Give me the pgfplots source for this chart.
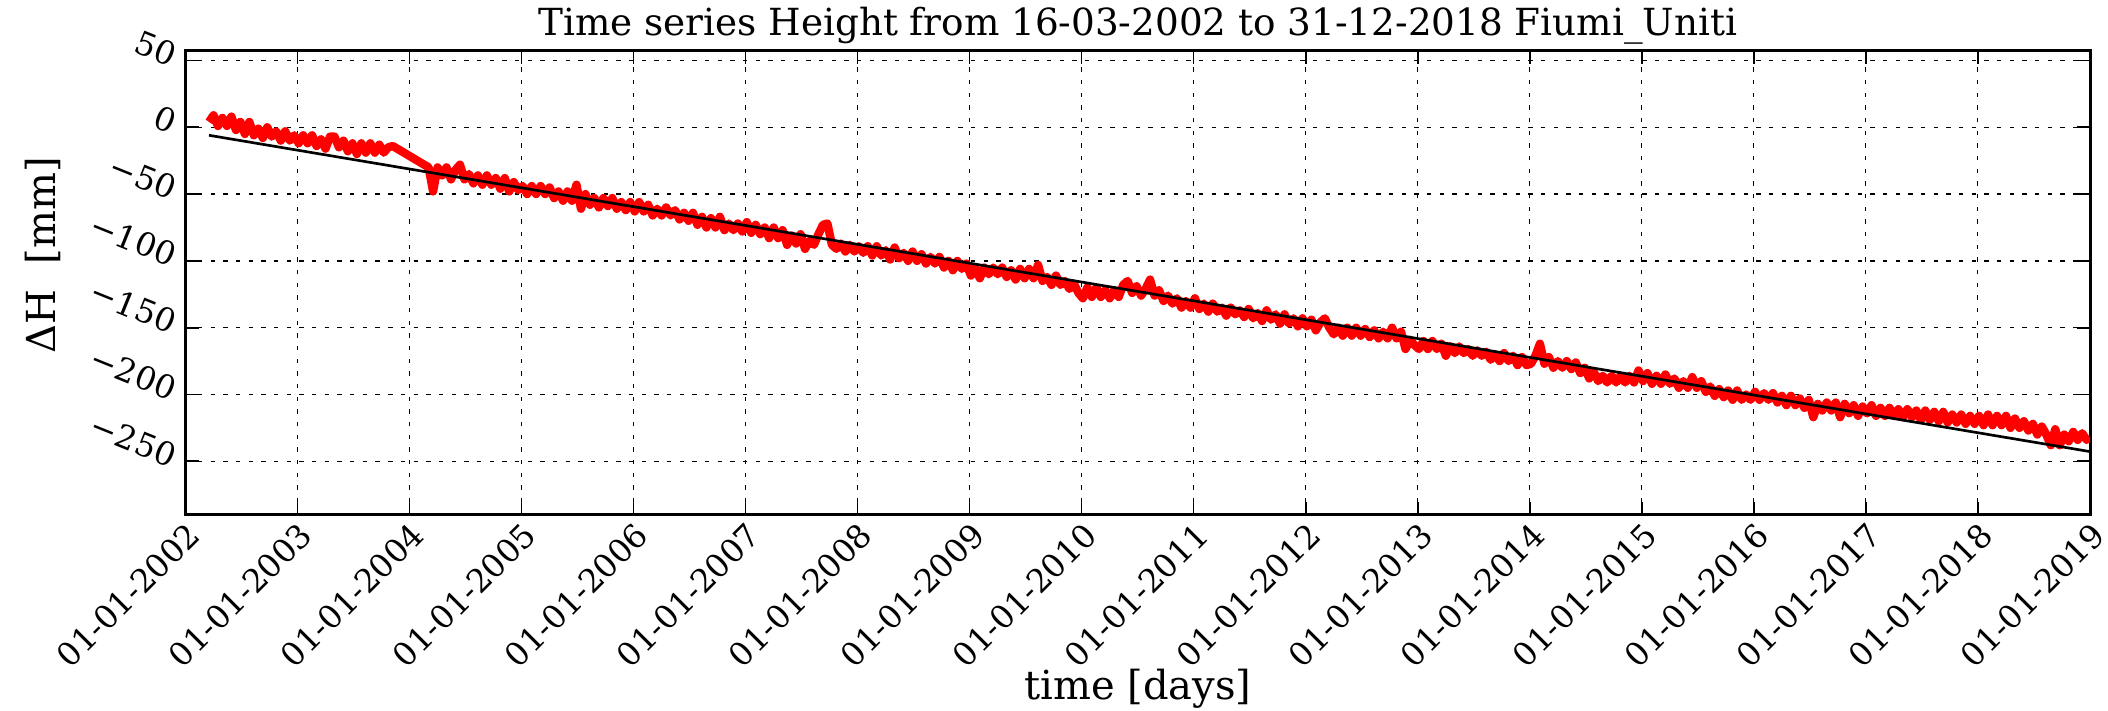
\documentclass[border=0pt]{standalone}
\usepackage{fontspec}
\setmainfont{DejaVu Serif}
\usepackage{pgfplots}
\pgfplotsset{compat=1.18}
\begin{document}
\begin{tikzpicture}
\useasboundingbox (-55.65pt,-58.8pt) rectangle (576.75pt,154.5pt);
\begin{axis}[
  at={(0pt,0pt)}, anchor=south west,
  scale only axis, width=571.35pt, height=139.2pt,
  xmin=2002, xmax=2019, ymin=-290.2, ymax=57.1,
  xtick={2002,...,2019},
  xticklabels={01-01-2002,01-01-2003,01-01-2004,01-01-2005,01-01-2006,01-01-2007,01-01-2008,01-01-2009,01-01-2010,01-01-2011,01-01-2012,01-01-2013,01-01-2014,01-01-2015,01-01-2016,01-01-2017,01-01-2018,01-01-2019},
  ytick={-250,-200,-150,-100,-50,0,50},
  yticklabels={−250,−200,−150,−100,−50,0,50},
  tick align=inside, tick pos=both, major tick length=4pt,
  every tick/.style={black, line width=0.5pt},
  grid=major, grid style={black, line width=0.4pt, dash pattern=on 1.3pt off 2.5pt},
  axis line style={line width=0.9pt},
  ticklabel style={font=\fontsize{9.7}{11}\selectfont},
  xticklabel style={rotate=45, anchor=north east, inner sep=1pt},
  yticklabel style={rotate=-22, anchor=east},
  title={Time series Height from 16-03-2002 to 31-12-2018 Fiumi\_Uniti},
  every axis title/.style={font=\fontsize{11.2}{13}\selectfont, at={(axis description cs:0.5,1)}, anchor=base, yshift=4.6pt},
  xlabel={time [days]},
  every axis x label/.style={font=\fontsize{12}{14}\selectfont, at={(axis description cs:0.5,0)}, anchor=base, yshift=-55.5pt},
  ylabel={ΔH\ \ [mm]},
  every axis y label/.style={font=\fontsize{12}{14}\selectfont, at={(axis description cs:-0.0748,0.56)}, anchor=center, rotate=90},
]
\addplot[red, line width=2.5pt, line join=round] coordinates {
(2002.21,4) (2002.25,9) (2002.29,1) (2002.33,7) (2002.37,1) (2002.41,8) (2002.45,-2) (2002.49,4) (2002.53,-5) (2002.57,4) (2002.61,-6) (2002.65,-1) (2002.69,-8) (2002.73,0) (2002.77,-7) (2002.81,-3) (2002.85,-10) (2002.89,-3) (2002.93,-10) (2002.97,-6)
(2003.01,-12) (2003.05,-6) (2003.09,-12) (2003.13,-6) (2003.17,-14) (2003.21,-9) (2003.25,-16) (2003.29,-7) (2003.33,-7) (2003.37,-15) (2003.41,-10) (2003.45,-18) (2003.49,-12) (2003.53,-20) (2003.57,-12) (2003.61,-19) (2003.65,-12) (2003.69,-19) (2003.73,-13) (2003.77,-19) (2003.81,-15) (2003.85,-14)
(2004.17,-30) (2004.21,-48) (2004.25,-30) (2004.29,-36) (2004.33,-30) (2004.37,-39) (2004.41,-32) (2004.45,-28) (2004.49,-39) (2004.53,-35) (2004.57,-42) (2004.61,-36) (2004.65,-43) (2004.69,-36) (2004.73,-43) (2004.77,-38) (2004.81,-46) (2004.85,-38) (2004.89,-48) (2004.93,-41) (2004.97,-47)
(2005.01,-44) (2005.05,-50) (2005.09,-44) (2005.13,-50) (2005.17,-44) (2005.21,-50) (2005.25,-45) (2005.29,-53) (2005.33,-48) (2005.37,-55) (2005.41,-48) (2005.45,-55) (2005.49,-43) (2005.53,-61) (2005.57,-50) (2005.61,-58) (2005.65,-53) (2005.69,-60) (2005.73,-53) (2005.77,-59) (2005.81,-53) (2005.85,-61) (2005.89,-56) (2005.93,-62) (2005.97,-56)
(2006.01,-63) (2006.05,-56) (2006.09,-63) (2006.13,-58) (2006.17,-66) (2006.21,-61) (2006.25,-66) (2006.29,-60) (2006.33,-66) (2006.37,-62) (2006.41,-69) (2006.45,-64) (2006.49,-70) (2006.53,-64) (2006.57,-73) (2006.61,-67) (2006.65,-75) (2006.69,-68) (2006.73,-75) (2006.77,-67) (2006.81,-77) (2006.85,-72) (2006.89,-77) (2006.93,-72) (2006.97,-78)
(2007.01,-71) (2007.05,-79) (2007.09,-73) (2007.13,-80) (2007.17,-75) (2007.21,-83) (2007.25,-75) (2007.29,-83) (2007.33,-77) (2007.37,-88) (2007.41,-81) (2007.45,-87) (2007.49,-80) (2007.53,-91) (2007.57,-85) (2007.61,-88) (2007.65,-80) (2007.69,-73) (2007.73,-72) (2007.77,-88) (2007.81,-91) (2007.85,-87) (2007.89,-93) (2007.93,-88) (2007.97,-93)
(2008.01,-89) (2008.05,-94) (2008.09,-89) (2008.13,-96) (2008.17,-89) (2008.21,-96) (2008.25,-92) (2008.29,-99) (2008.33,-90) (2008.37,-98) (2008.41,-94) (2008.45,-100) (2008.49,-93) (2008.53,-100) (2008.57,-95) (2008.61,-102) (2008.65,-97) (2008.69,-102) (2008.73,-97) (2008.77,-105) (2008.81,-100) (2008.85,-107) (2008.89,-100) (2008.93,-106) (2008.97,-102)
(2009.01,-111) (2009.05,-105) (2009.09,-113) (2009.13,-105) (2009.17,-110) (2009.21,-105) (2009.25,-110) (2009.29,-105) (2009.33,-112) (2009.37,-107) (2009.41,-114) (2009.45,-106) (2009.49,-113) (2009.53,-106) (2009.57,-113) (2009.61,-103) (2009.65,-115) (2009.69,-112) (2009.73,-118) (2009.77,-111) (2009.81,-118) (2009.85,-115) (2009.89,-121) (2009.93,-117) (2009.97,-124)
(2010.01,-128) (2010.05,-120) (2010.09,-127) (2010.13,-120) (2010.17,-127) (2010.21,-122) (2010.25,-128) (2010.29,-122) (2010.33,-127) (2010.37,-118) (2010.41,-115) (2010.45,-124) (2010.49,-119) (2010.53,-126) (2010.57,-121) (2010.61,-114) (2010.65,-126) (2010.69,-122) (2010.73,-130) (2010.77,-126) (2010.81,-132) (2010.85,-128) (2010.89,-135) (2010.93,-130) (2010.97,-135)
(2011.01,-128) (2011.05,-136) (2011.09,-132) (2011.13,-138) (2011.17,-132) (2011.21,-138) (2011.25,-135) (2011.29,-141) (2011.33,-135) (2011.37,-140) (2011.41,-137) (2011.45,-142) (2011.49,-136) (2011.53,-143) (2011.57,-139) (2011.61,-145) (2011.65,-137) (2011.69,-144) (2011.73,-140) (2011.77,-147) (2011.81,-140) (2011.85,-147) (2011.89,-143) (2011.93,-149) (2011.97,-143)
(2012.01,-149) (2012.05,-144) (2012.09,-152) (2012.13,-146) (2012.17,-143) (2012.21,-150) (2012.25,-155) (2012.29,-150) (2012.33,-156) (2012.37,-150) (2012.41,-156) (2012.45,-150) (2012.49,-156) (2012.53,-151) (2012.57,-157) (2012.61,-152) (2012.65,-158) (2012.69,-153) (2012.73,-158) (2012.77,-150) (2012.81,-158) (2012.85,-153) (2012.89,-166) (2012.93,-159) (2012.97,-163)
(2013.01,-166) (2013.05,-160) (2013.09,-166) (2013.13,-160) (2013.17,-166) (2013.21,-162) (2013.25,-171) (2013.29,-164) (2013.33,-169) (2013.37,-164) (2013.41,-169) (2013.45,-166) (2013.49,-171) (2013.53,-167) (2013.57,-171) (2013.61,-168) (2013.65,-174) (2013.69,-170) (2013.73,-175) (2013.77,-169) (2013.81,-175) (2013.85,-171) (2013.89,-178) (2013.93,-172) (2013.97,-178)
(2014.01,-177) (2014.05,-171) (2014.09,-162) (2014.13,-177) (2014.17,-172) (2014.21,-180) (2014.25,-175) (2014.29,-180) (2014.33,-175) (2014.37,-181) (2014.41,-176) (2014.45,-184) (2014.49,-180) (2014.53,-188) (2014.57,-183) (2014.61,-190) (2014.65,-186) (2014.69,-191) (2014.73,-186) (2014.77,-191) (2014.81,-186) (2014.85,-191) (2014.89,-186) (2014.93,-191) (2014.97,-182)
(2015.01,-190) (2015.05,-184) (2015.09,-192) (2015.13,-186) (2015.17,-192) (2015.21,-185) (2015.25,-192) (2015.29,-188) (2015.33,-195) (2015.37,-190) (2015.41,-195) (2015.45,-187) (2015.49,-195) (2015.53,-190) (2015.57,-198) (2015.61,-194) (2015.65,-201) (2015.69,-196) (2015.73,-202) (2015.77,-197) (2015.81,-204) (2015.85,-197) (2015.89,-204) (2015.93,-200) (2015.97,-204)
(2016.01,-198) (2016.05,-204) (2016.09,-199) (2016.13,-204) (2016.17,-199) (2016.21,-206) (2016.25,-201) (2016.29,-208) (2016.33,-201) (2016.37,-208) (2016.41,-203) (2016.45,-210) (2016.49,-204) (2016.53,-217) (2016.57,-207) (2016.61,-212) (2016.65,-206) (2016.69,-212) (2016.73,-206) (2016.77,-217) (2016.81,-207) (2016.85,-214) (2016.89,-208) (2016.93,-216) (2016.97,-209)
(2017.01,-214) (2017.05,-208) (2017.09,-216) (2017.13,-210) (2017.17,-216) (2017.21,-210) (2017.25,-216) (2017.29,-211) (2017.33,-217) (2017.37,-211) (2017.41,-217) (2017.45,-212) (2017.49,-219) (2017.53,-212) (2017.57,-219) (2017.61,-213) (2017.65,-220) (2017.69,-213) (2017.73,-221) (2017.77,-215) (2017.81,-221) (2017.85,-215) (2017.89,-222) (2017.93,-216) (2017.97,-222)
(2018.01,-216) (2018.05,-223) (2018.09,-215) (2018.13,-223) (2018.17,-216) (2018.21,-223) (2018.25,-216) (2018.29,-225) (2018.33,-218) (2018.37,-225) (2018.41,-220) (2018.45,-227) (2018.49,-222) (2018.53,-230) (2018.57,-224) (2018.61,-230) (2018.65,-238) (2018.69,-226) (2018.73,-238) (2018.77,-230) (2018.81,-235) (2018.85,-228) (2018.89,-234) (2018.93,-229) (2018.97,-234) (2018.997,-232)
};
\addplot[black, line width=0.8pt] coordinates {(2002.21,-6) (2018.997,-242.7)};
\end{axis}
\end{tikzpicture}
\end{document}
